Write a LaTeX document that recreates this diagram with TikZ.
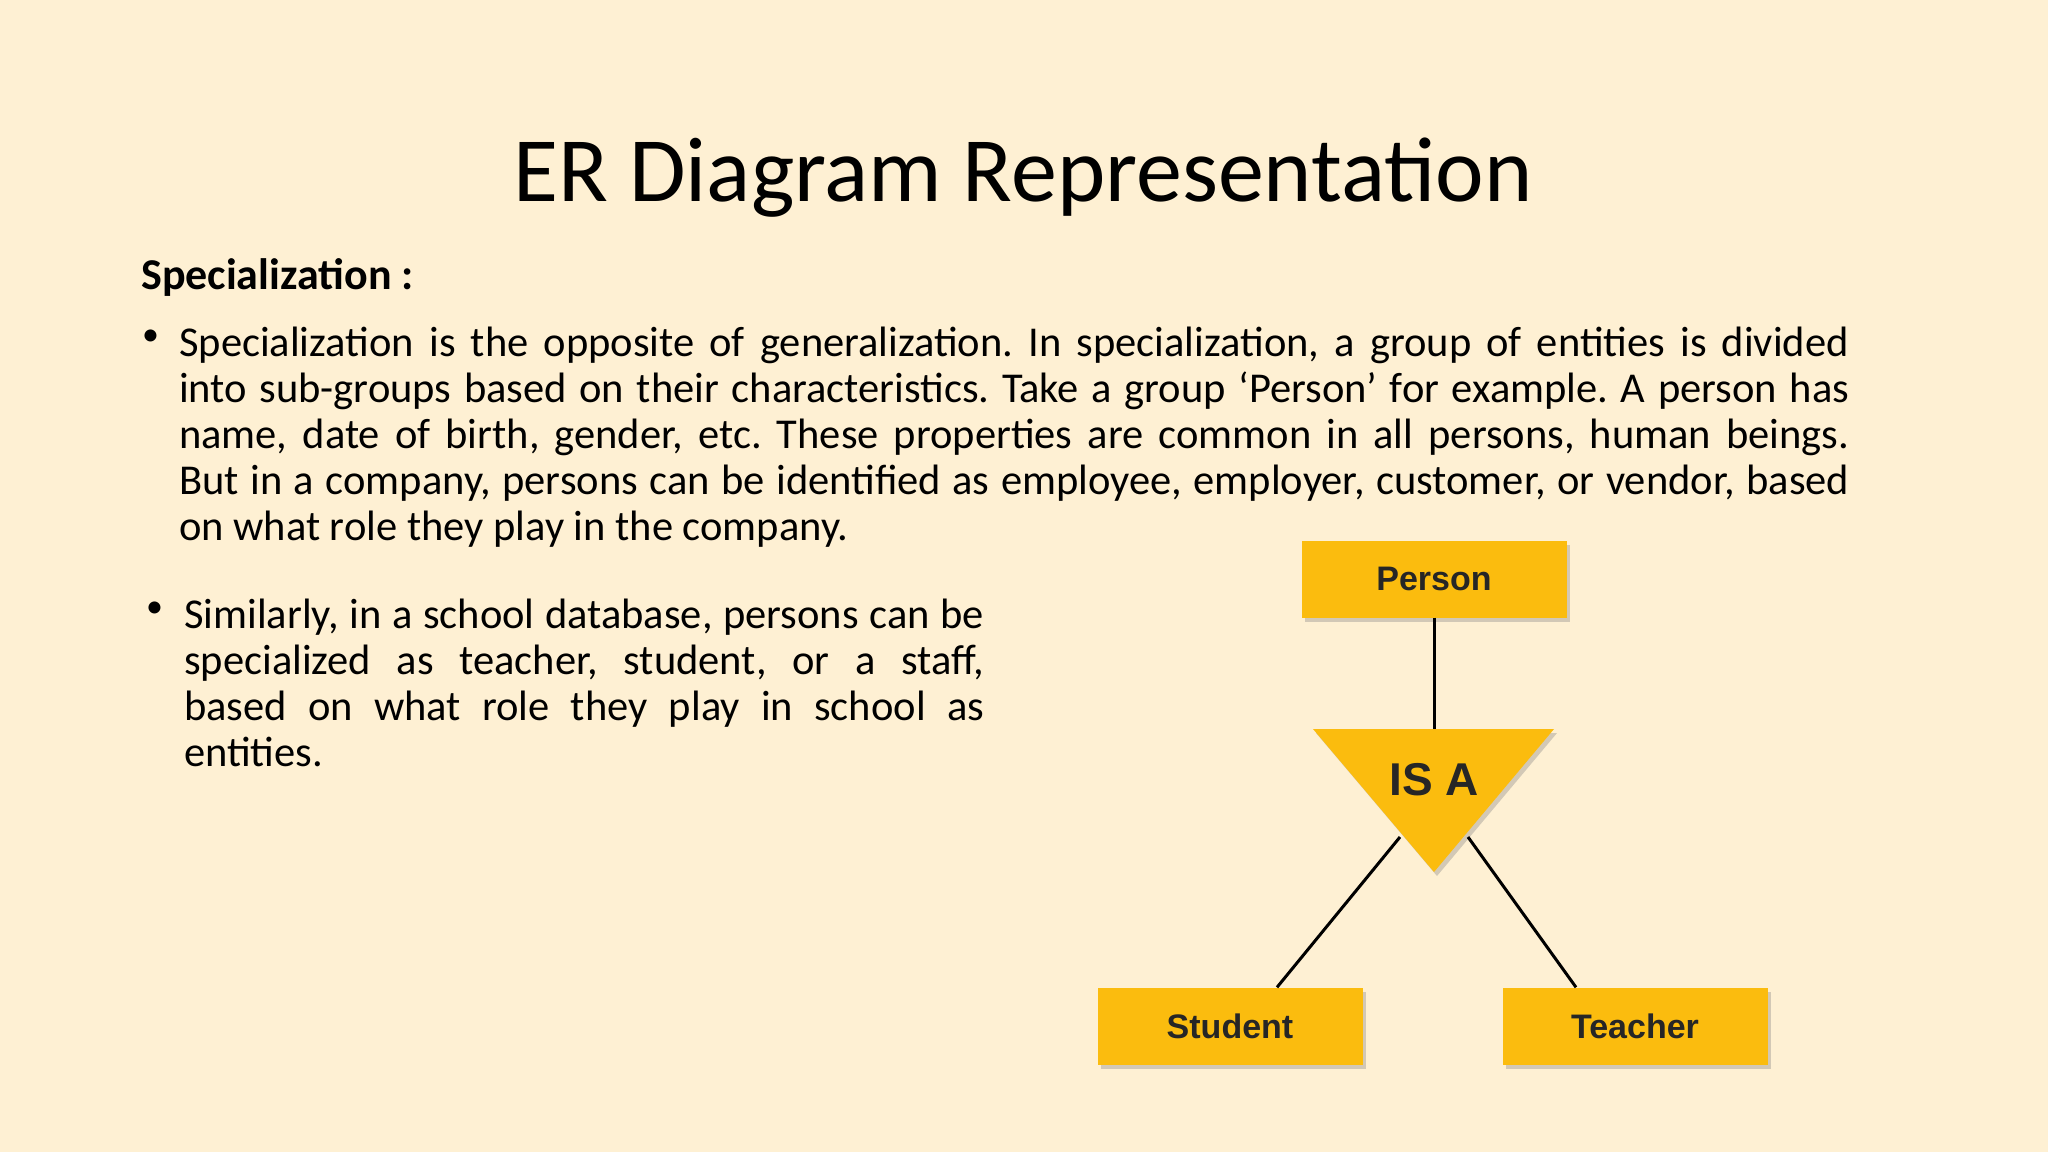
\documentclass[tikz,border=0pt]{standalone}
\usepackage{fontspec}
\setmainfont{Carlito}
\newfontfamily\boxfont{Liberation Sans}
\usetikzlibrary{shadows}
\definecolor{slidebg}{HTML}{FEF0D3}
\definecolor{entyellow}{HTML}{FBBC0E}
\frenchspacing
\tikzset{
  entity/.style={fill=entyellow, minimum width=265pt, minimum height=77pt,
    font=\boxfont\bfseries\fontsize{34}{40}\selectfont, text=black!85,
    drop shadow={shadow xshift=3pt, shadow yshift=-4pt, opacity=.35}},
  bodytext/.style={anchor=north west, align=justify, inner sep=0pt,
    font=\fontsize{42.5}{46}\selectfont},
  bulletmark/.style={anchor=north west, inner sep=0pt, font=\fontsize{34}{46}\selectfont}
}
\begin{document}
\begin{tikzpicture}[x=1pt,y=-1pt]
  \fill[slidebg] (0,0) rectangle (2048,1152);
  \useasboundingbox (0,0) rectangle (2048,1152);

  \node (title) at (1023,178) {\fontsize{92}{100}\selectfont ER Diagram Representation};
  \node[anchor=west, inner sep=0pt] (heading) at (141,277) {\fontsize{44}{46}\selectfont\bfseries Specialization :};

  \node[bulletmark] (b1) at (142,330) {\textbullet};
  \node[bodytext, text width=1670pt] (para1) at (179,327)
    {Specialization is the opposite of generalization. In specialization, a group of entities is divided\linebreak
     into sub-groups based on their characteristics. Take a group ‘Person’ for example. A person has\linebreak
     name, date of birth, gender, etc. These properties are common in all persons, human beings.\linebreak
     But in a company, persons can be identified as employee, employer, customer, or vendor, based\linebreak
     on what role they play in the company.};

  \node[bulletmark] (b2) at (146,602) {\textbullet};
  \node[bodytext, text width=800pt] (para2) at (184,599)
    {Similarly, in a school database, persons can be\linebreak
     specialized as teacher, student, or a staff,\linebreak
     based on what role they play in school as\linebreak
     entities.};

  % diagram
  \node[entity] (person) at (1434,579) {Person};
  \node[entity] (student) at (1230,1026) {Student};
  \node[entity] (teacher) at (1635,1026) {Teacher};

  \coordinate (isaTL) at (1313,729);
  \coordinate (isaTR) at (1554,729);
  \coordinate (isaB) at (1434,872);
  \fill[entyellow, drop shadow={shadow xshift=3pt, shadow yshift=-4pt, opacity=.35}]
    (isaTL) -- (isaTR) -- (isaB) -- cycle;
  \node (isa) at (1434,780) {\boxfont\bfseries\fontsize{46}{56}\selectfont\color{black!85}IS A};
  \coordinate (isaL) at (1400,837);
  \coordinate (isaR) at (1468,837);

  \draw[line width=3pt] (person.south) -- (1434,729);
  \draw[line width=3pt] (isaL) -- ([xshift=47pt]student.north);
  \draw[line width=3pt] (isaR) -- ([xshift=-59pt]teacher.north);
\end{tikzpicture}
\end{document}
